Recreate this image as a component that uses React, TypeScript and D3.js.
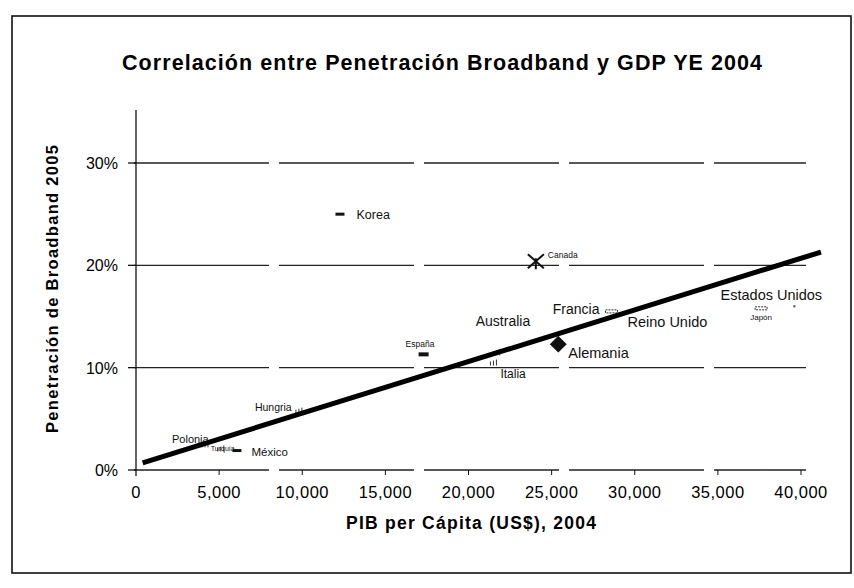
import React, { useEffect, useRef } from "react";
import * as d3 from "d3";

// country scatter: GDP per capita 2004 (US$) vs broadband penetration 2005
const countries = ["Polonia", "Turquía", "México", "Hungria", "Korea", "España", "Australia", "Italia", "Canada", "Alemania", "Francia", "Reino Unido", "Estados Unidos", "Japón"];
const gdp = [4150, 5100, 6100, 9800, 12300, 17300, 21700, 21500, 24050, 25400, 28600, 28600, 39600, 37600];
const broadband = [0.025, 0.021, 0.019, 0.058, 0.250, 0.113, 0.115, 0.105, 0.204, 0.123, 0.155, 0.149, 0.160, 0.158];

// fitted trend line endpoints
const trendX = [400, 41200];
const trendY = [0.007, 0.213];

const xTicks = [0, 5000, 10000, 15000, 20000, 25000, 30000, 35000, 40000];
const yTicks = [0, 0.1, 0.2, 0.3];

// marker look + label placement, per country
const markerType: Record<string, string> = {
  "Polonia": "tick", "Turquía": "tick", "México": "dash", "Hungria": "tick", "Korea": "dash",
  "España": "block", "Australia": "tick", "Italia": "tick", "Canada": "star", "Alemania": "diamond",
  "Francia": "hatch", "Reino Unido": "dot", "Estados Unidos": "dot", "Japón": "hatch",
};
const labelPos: Record<string, [number, number, number, string]> = {
  "Polonia": [-33, -1, 11, "start"],
  "Turquía": [-10, 2, 7, "start"],
  "México": [14, 5, 11.5, "start"],
  "Hungria": [-44, 0, 10.5, "start"],
  "Korea": [16, 5, 12.5, "start"],
  "España": [-18, -7, 8.5, "start"],
  "Australia": [-21, -26, 14, "start"],
  "Italia": [7, 15, 12, "start"],
  "Canada": [12, -3, 8.5, "start"],
  "Alemania": [10, 14, 14.5, "start"],
  "Francia": [-12, 3, 14, "end"],
  "Reino Unido": [16, 9, 14.5, "start"],
  "Estados Unidos": [-23, -6, 14.5, "middle"],
  "Japón": [0, 12, 8, "middle"],
};

const FONT = "'Liberation Sans', Arial, sans-serif";

export default function App() {
  const svgRef = useRef<SVGSVGElement>(null);

  useEffect(() => {
    const svg = d3.select(svgRef.current);
    svg.selectAll("*").remove();

    const x = d3.scaleLinear().domain([0, 40000]).range([136, 801]);
    const y = d3.scaleLinear().domain([0, 0.3]).range([470, 163]);

    // outer frame
    svg.append("rect").attr("x", 12).attr("y", 16).attr("width", 839).attr("height", 557)
      .attr("fill", "none").attr("stroke", "#111").attr("stroke-width", 1.6);

    svg.append("text").attr("x", 442).attr("y", 70).attr("text-anchor", "middle")
      .attr("font-family", FONT).attr("font-weight", "bold").attr("font-size", 21.5)
      .attr("textLength", 640).attr("lengthAdjust", "spacing")
      .text("Correlación entre Penetración Broadband y GDP YE 2004");

    // gridlines
    svg.append("g").selectAll("line").data(yTicks).enter().append("line")
      .attr("x1", x(0) - 2).attr("x2", x(40300)).attr("y1", (d) => y(d)).attr("y2", (d) => y(d))
      .attr("stroke", "#222").attr("stroke-width", 1.4).attr("stroke-dasharray", "135 10");

    // y axis
    svg.append("line").attr("x1", x(0)).attr("x2", x(0)).attr("y1", 110).attr("y2", y(0) + 6)
      .attr("stroke", "#111").attr("stroke-width", 1.3);
    svg.append("g").selectAll("line").data(yTicks).enter().append("line")
      .attr("x1", x(0) - 8).attr("x2", x(0)).attr("y1", (d) => y(d)).attr("y2", (d) => y(d))
      .attr("stroke", "#111").attr("stroke-width", 1.3);
    svg.append("g").selectAll("text").data(yTicks).enter().append("text")
      .attr("x", 118).attr("y", (d) => y(d) + 6).attr("text-anchor", "end")
      .attr("font-family", FONT).attr("font-size", 16)
      .text((d) => d3.format(".0%")(d));

    // x ticks
    svg.append("g").selectAll("line").data(xTicks.slice(1)).enter().append("line")
      .attr("x1", (d) => x(d)).attr("x2", (d) => x(d)).attr("y1", y(0)).attr("y2", y(0) + 5)
      .attr("stroke", "#111").attr("stroke-width", 1);
    svg.append("g").selectAll("text").data(xTicks).enter().append("text")
      .attr("x", (d) => x(d)).attr("y", 498).attr("text-anchor", "middle")
      .attr("font-family", FONT).attr("font-size", 16.5).attr("letter-spacing", 0.5)
      .text((d) => d3.format(",")(d));

    svg.append("text").attr("x", 471).attr("y", 529).attr("text-anchor", "middle")
      .attr("font-family", FONT).attr("font-weight", "bold").attr("font-size", 17.5)
      .attr("textLength", 250).attr("lengthAdjust", "spacing")
      .text("PIB per Cápita (US$), 2004");
    svg.append("text").attr("transform", "translate(58,289) rotate(-90)").attr("text-anchor", "middle")
      .attr("font-family", FONT).attr("font-weight", "bold").attr("font-size", 16.5)
      .attr("textLength", 288).attr("lengthAdjust", "spacing")
      .text("Penetración de Broadband 2005");

    // points
    const pts = countries.map((c, i) => ({ c, px: x(gdp[i]), py: y(broadband[i]) }));
    const g = svg.append("g");
    pts.forEach(({ c, px, py }) => {
      const t = markerType[c];
      if (t === "dash") g.append("rect").attr("x", px - 5).attr("y", py - 1.5).attr("width", 9).attr("height", 3).attr("fill", "#111");
      else if (t === "block") g.append("rect").attr("x", px - 5).attr("y", py - 2).attr("width", 10).attr("height", 4).attr("fill", "#111");
      else if (t === "hatch") g.append("rect").attr("x", px - 6).attr("y", py - 1.5).attr("width", 12).attr("height", 3).attr("fill", "none").attr("stroke", "#333").attr("stroke-width", 1).attr("stroke-dasharray", "2 1");
      else if (t === "diamond") g.append("rect").attr("x", -6).attr("y", -6).attr("width", 12).attr("height", 12)
        .attr("transform", `translate(${px},${py}) rotate(45)`).attr("fill", "#111");
      else if (t === "star") {
        g.append("path").attr("d", `M${px - 8},${py - 7}L${px + 8},${py + 7}M${px + 8},${py - 7}L${px - 8},${py + 7}M${px},${py - 3}L${px},${py + 8}`)
          .attr("stroke", "#111").attr("stroke-width", 2);
      } else if (t === "dot") g.append("rect").attr("x", -1).attr("y", -1).attr("width", 2).attr("height", 2)
        .attr("transform", `translate(${px},${py})`).attr("fill", "#444");
      else g.append("path").attr("d", `M${px - 3},${py + 3}L${px - 3},${py - 1}M${px},${py + 3}L${px},${py - 2}M${px + 3},${py + 3}L${px + 3},${py - 3}`)
        .attr("stroke", "#333").attr("stroke-width", 1);

      const [dx, dy, fs, anchor] = labelPos[c];
      g.append("text").attr("x", px + dx).attr("y", py + dy).attr("text-anchor", anchor)
        .attr("font-family", FONT).attr("font-size", fs).attr("fill", "#111").text(c);
    });

    // trend line
    const line = d3.line<number>().x((d) => x(d)).y((_, i) => y(trendY[i]));
    svg.append("path").datum(trendX).attr("d", line).attr("fill", "none")
      .attr("stroke", "#000").attr("stroke-width", 5);
  }, []);

  return (
    <svg ref={svgRef} width={854} height={588}
      style={{ position: "absolute", left: 0, top: 0, background: "#fff" }} />
  );
}
